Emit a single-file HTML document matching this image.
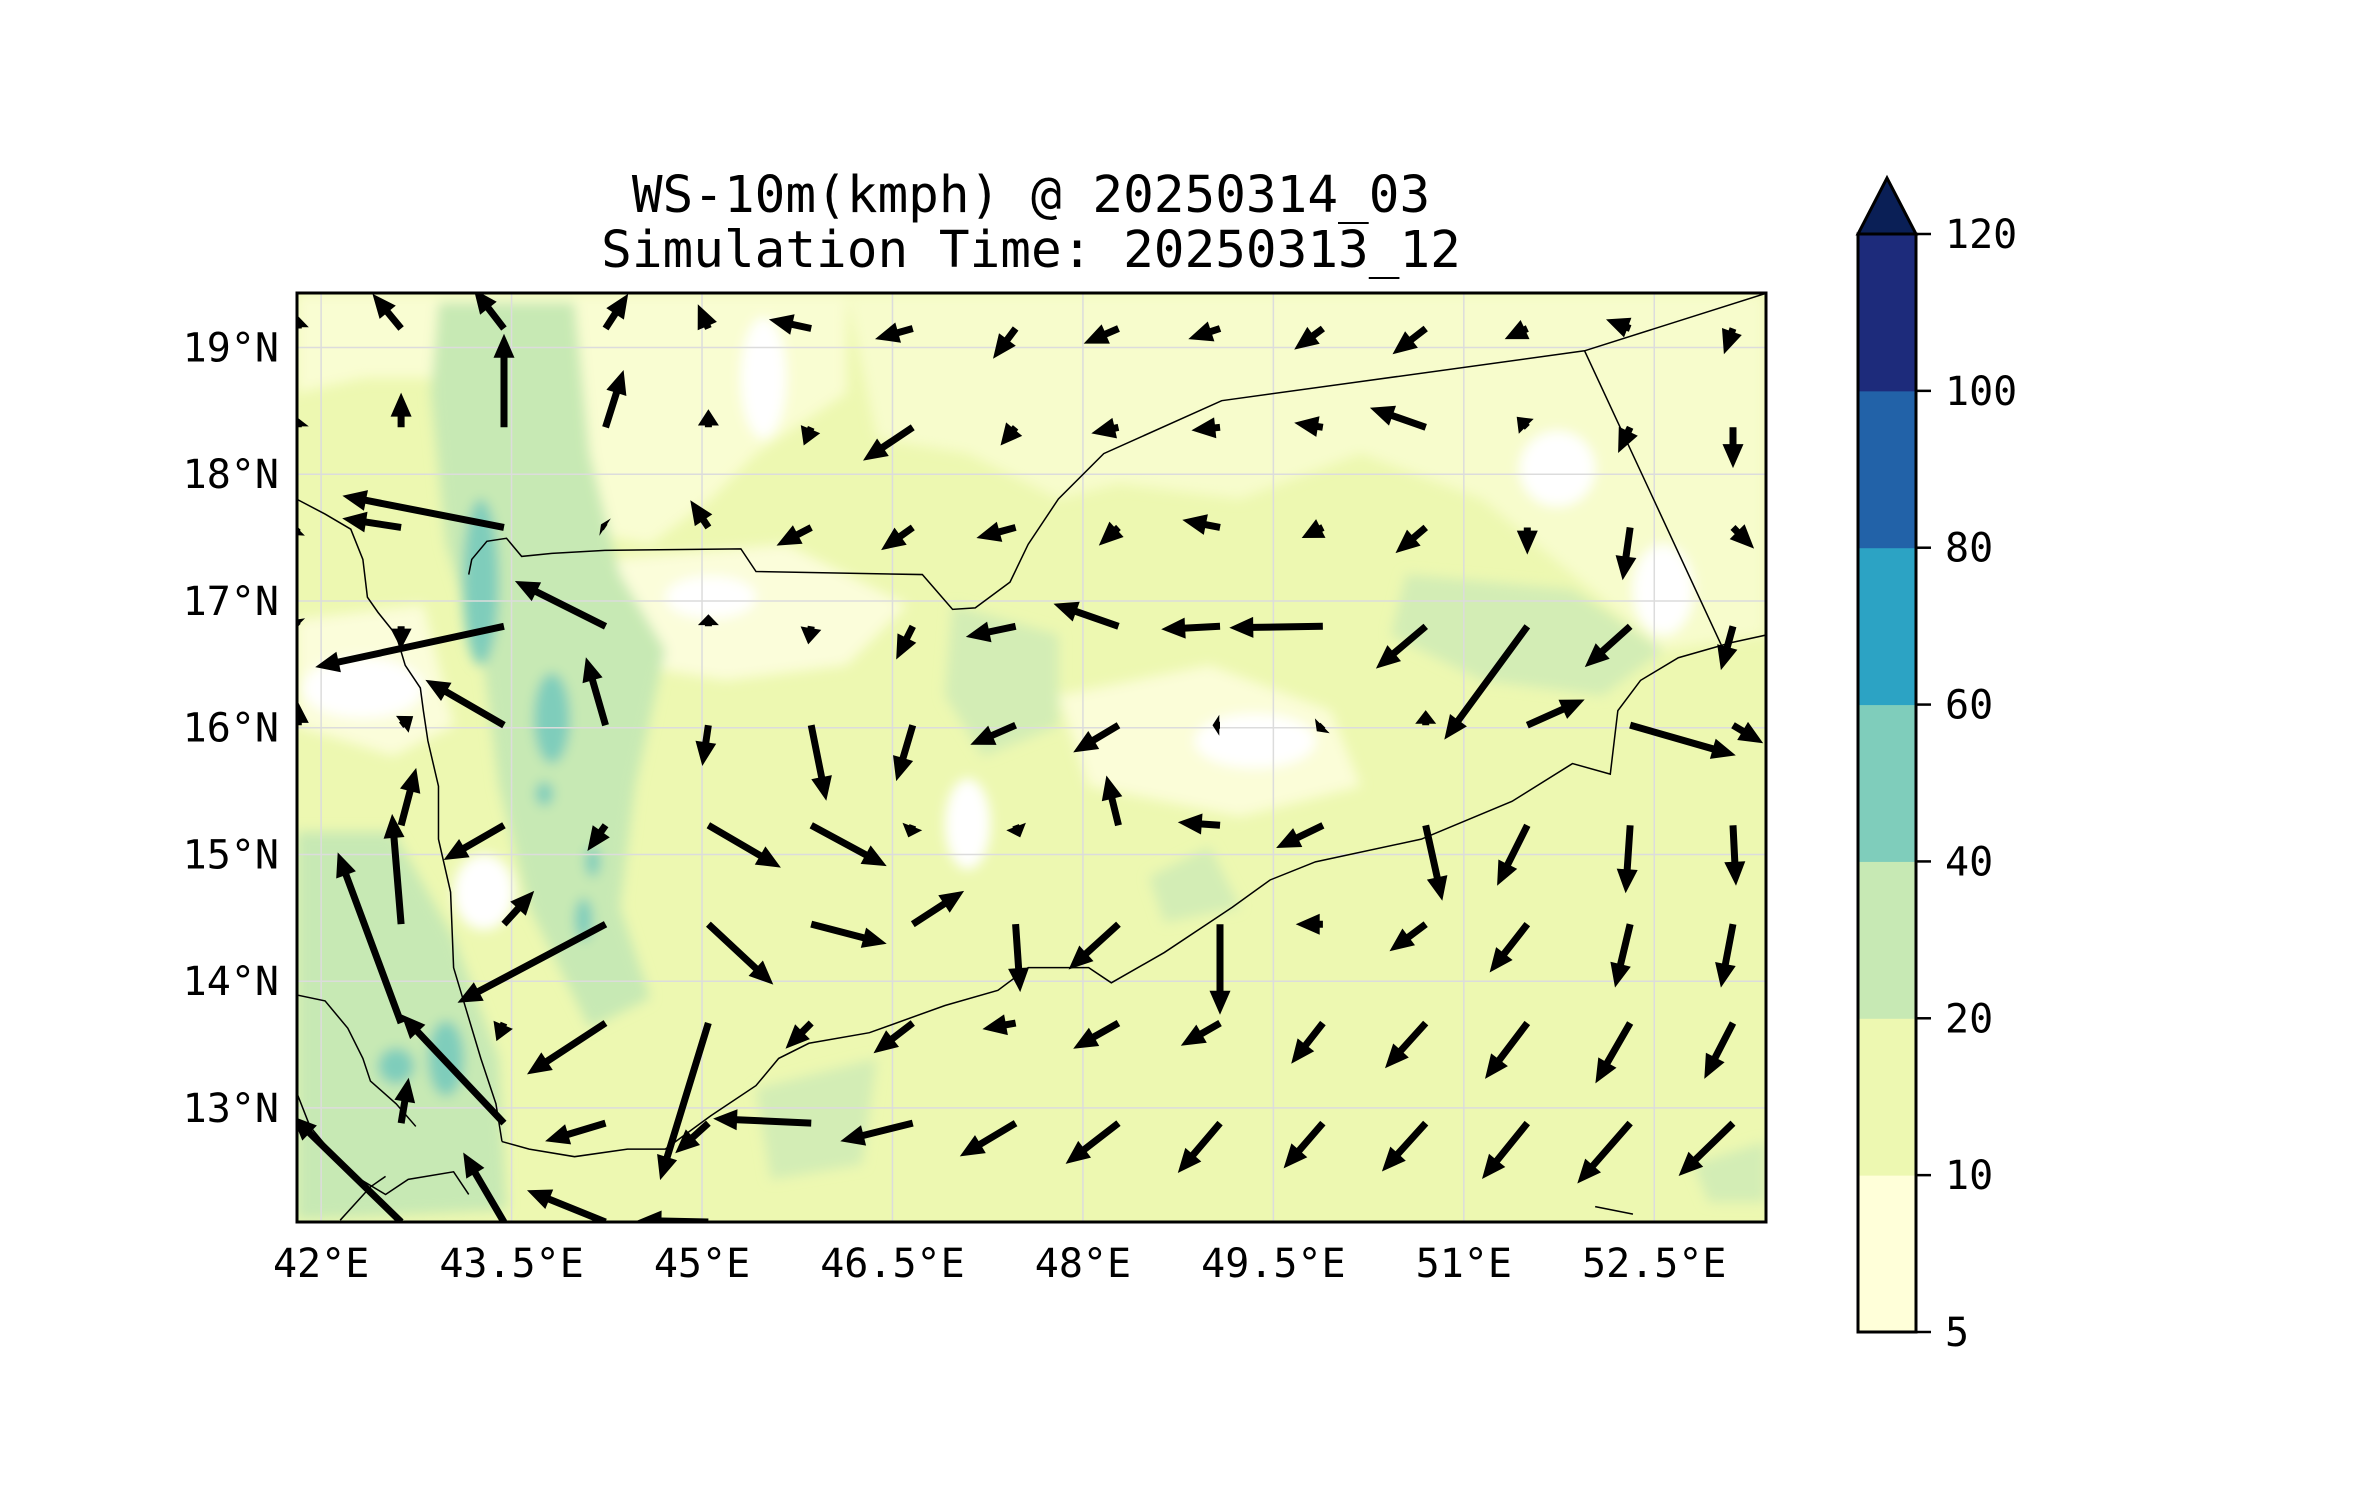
<!DOCTYPE html>
<html><head><meta charset="utf-8"><style>
html,body{margin:0;padding:0;background:#fff;}
svg{display:block;font-family:"DejaVu Sans Mono","Liberation Mono",monospace;}
</style></head><body>
<svg id="chart" width="2371" height="1500" viewBox="0 0 2371 1500" xmlns="http://www.w3.org/2000/svg">
<defs>
<clipPath id="plotclip"><rect x="297" y="293" width="1469" height="929"/></clipPath>
<filter id="blur"><feGaussianBlur stdDeviation="4"/></filter>
</defs>
<text x="1031" y="212" font-size="51" text-anchor="middle">WS-10m(kmph) @ 20250314_03</text>
<text x="1031" y="267" font-size="51" text-anchor="middle">Simulation Time: 20250313_12</text>
<g id="plot" clip-path="url(#plotclip)">
<rect x="297" y="293" width="1469" height="929" fill="#edf8b1"/>
<g transform="scale(1.512)" filter="url(#blur)">
<path d="M196 194 L560 194 L560 260 L500 300 L470 330 L430 360 L380 350 L340 300 L300 250 L240 250 L196 260Z" fill="#f9fdd2"/>
<path d="M560 194 L1168 194 L1168 420 L1100 430 L1040 380 L980 330 L900 300 L820 330 L740 320 L700 330 L640 300 L580 290 Z" fill="#f7fccc"/>
<path d="M400 370 L520 360 L600 400 L560 440 L480 450 L420 440Z" fill="#fbfdda"/>
<path d="M700 460 L800 440 L880 470 L900 520 L820 540 L720 520Z" fill="#fbfdd8"/>
<path d="M196 410 L280 400 L300 480 L260 500 L196 480Z" fill="#fbfdda"/>
<ellipse cx="505" cy="250" rx="15" ry="40" fill="#ffffff"/>
<ellipse cx="470" cy="395" rx="30" ry="14" fill="#ffffff"/>
<ellipse cx="240" cy="455" rx="40" ry="20" fill="#ffffff"/>
<ellipse cx="830" cy="490" rx="40" ry="18" fill="#ffffff"/>
<ellipse cx="1030" cy="310" rx="25" ry="25" fill="#ffffff"/>
<ellipse cx="1100" cy="390" rx="20" ry="30" fill="#ffffff"/>
<ellipse cx="640" cy="545" rx="15" ry="30" fill="#ffffff"/>
<ellipse cx="320" cy="590" rx="20" ry="25" fill="#ffffff"/>
<path d="M290 200 L380 200 L390 300 L410 380 L440 430 L420 520 L410 600 L430 660 L390 680 L350 600 L330 520 L320 440 L295 360 L285 260Z" fill="#c7e9b4"/>
<path d="M196 550 L260 550 L300 620 L330 700 L335 800 L196 807Z" fill="#c7e9b4"/>
<path d="M630 400 L700 420 L700 480 L650 500 L625 460Z" fill="#d3edb5"/>
<path d="M930 380 L1040 390 L1100 430 L1060 460 L980 450 L920 420Z" fill="#d3edb5"/>
<path d="M500 720 L580 700 L570 770 L510 780Z" fill="#d3edb5"/>
<path d="M760 580 L800 560 L820 600 L770 610Z" fill="#d3edb5"/>
<path d="M1120 770 L1168 755 L1168 795 L1130 795Z" fill="#d3edb5"/>
<ellipse cx="318" cy="385" rx="12" ry="55" fill="#7fcdbb"/>
<ellipse cx="365" cy="475" rx="12" ry="30" fill="#7fcdbb"/>
<ellipse cx="360" cy="525" rx="6" ry="8" fill="#7fcdbb"/>
<ellipse cx="392" cy="570" rx="5" ry="10" fill="#7fcdbb"/>
<ellipse cx="386" cy="608" rx="6" ry="14" fill="#7fcdbb"/>
<ellipse cx="295" cy="700" rx="12" ry="25" fill="#7fcdbb"/>
<ellipse cx="262" cy="705" rx="12" ry="12" fill="#7fcdbb"/>
</g>
<g id="grid" stroke="#dcdcdc" stroke-width="1.5"></g>
<g transform="scale(1.512)" fill="none" stroke="#000" stroke-width="1">
<polyline points="196,330 215,340 232,350 240,370 243,395 250,405 262,420 268,440 278,455 280,470 283,490 290,520 290,555 298,590 300,640 318,700 328,730 332,755"/>
<polyline points="332,755 350,760 380,765 415,760 440,760 470,738 500,718 515,700 535,690 575,683 625,665 660,655 680,640 700,640 720,640 735,650 770,630 800,610 815,600 840,582 870,570 940,555 1000,530 1040,505 1065,512 1070,470 1085,450 1110,435 1145,425 1168,420"/>
<polyline points="310,380 312,370 322,358 335,356 345,368 365,366 400,364 490,363 500,378 610,380 630,403 645,402 668,385 680,360 700,330 730,300 808,265 1048,232 1168,194"/>
<polyline points="1048,232 1140,430"/>
<polyline points="196,658 215,662 230,680 240,700 245,715 262,730 275,745"/>
<polyline points="196,722 205,745 230,775 255,790 270,780 300,775 310,790"/>
<polyline points="225,807 245,785 255,778"/>
<polyline points="1055,798 1065,800 1080,803"/>
</g>
<g id="arrows"></g>
</g>
<rect x="297" y="293" width="1469" height="929" fill="none" stroke="#000" stroke-width="3"/>
<g id="axes"></g>
<g id="colorbar"></g>
</svg>
<script>
const lonTicks=[42,43.5,45,46.5,48,49.5,51,52.5];
const latTicks=[13,14,15,16,17,18,19];
const cbLevels=[5,10,20,40,60,80,100,120];
const cbColors=["#ffffd9","#edf8b1","#c7e9b4","#7fcdbb","#2ca3c4","#2262a8","#1d2b7b"];
const gridLons=[41.82,42.63,43.44,44.24,45.05,45.86,46.66,47.47,48.28,49.08,49.89,50.70,51.50,52.31,53.12];
const gridLats=[19.15,18.37,17.58,16.80,16.02,15.23,14.45,13.67,12.88,12.10];
const U=[
[0,-9.5,-10,7.5,-3.5,-14,-12.5,-7.5,-11.5,-10.5,-9.5,-11,-7.5,-8,-3],
[0,0,0,6,0,-2.5,-16.5,-5,-9,-9.5,-9.5,-18.5,-3.5,-4,0],
[-2.5,-19.5,-53.5,-1.5,-6,-11.5,-10.5,-13,-6.5,-12.5,-7,-10,0,-2.5,7],
[-2,0,-62.5,-30,0,-1,-5.5,-16.5,-21.5,-19.5,-31,-16.5,-27.5,-15,-4],
[0,4,-26,-6.5,-2,5,-5.5,-15,-15,-2.5,-2,0,19,35,10],
[0,5,-20,-6,24,25,-1.5,1.5,-4,-14,-15.5,5.5,-10,-1.5,1],
[0,-3,10,-49,21.5,25,17,1.5,-16.5,0,-9,-12,-12.5,-5,-4],
[0,-21,-2.5,-26,-16,-8.5,-13,-11,-15,-13,-10.5,-13.5,-14,-11.5,-9.5],
[0,2.5,-34,-20,-11,-32.5,-24,-18.5,-17.5,-14,-13,-14.5,-15,-17.5,-18],
[0,-36,-13.5,-26,-23.5,0,0,0,0,0,0,0,0,0,0]];
const V=[
[4,11.5,13,11.5,8,3,-3.5,-10,-5,-3.5,-7,-8.5,-3.5,3,-8.5],
[3,11.5,31,19,6,-6,-11,-6,-2,-1,1.5,6.5,3.5,-8.5,-13.5],
[-2.5,3,10.5,1,9,-6,-7.5,-3.5,-6,2.5,-3.5,-8.5,-9,-17.5,-7],
[2,-7.5,-13.5,15,4,-6,-11,-3.5,7.5,-1,-0.5,-14,-37.5,-13.5,-14.5],
[7.5,3,15,22.5,-13.5,-25,-18.5,-6.5,-9,0,-2,5,8.5,-10,-6],
[0,19,-11.5,-8.5,-14,-13.5,-4,-4,16.5,1,-7.5,-25,-20,-22.5,-20],
[0,36.5,11,-26,-20,-6.5,11,-22.5,-15,-30,0,-9,-16,-21,-21],
[0,56.5,-6,-17,-52,-8.5,-10,-2,-8.5,-7.5,-13.5,-15,-18.5,-20,-18.5],
[0,15,36,-6,-10,1.5,-6,-11,-13.5,-16.5,-15,-16,-18.5,-20,-17.5],
[0,35,23,10.5,0.5,0,0,0,0,0,0,0,0,0,0]];
const X0=297,X1=1766,Y0=293,Y1=1222;
const LON0=41.81,LON1=53.38,LAT0=12.1,LAT1=19.43;
function xs(lon){return X0+(lon-LON0)/(LON1-LON0)*(X1-X0);}
function ys(lat){return Y1-(lat-LAT0)/(LAT1-LAT0)*(Y1-Y0);}
const PXU=3.02;
const NS="http://www.w3.org/2000/svg";
function mk(tag,attrs,parent){const e=document.createElementNS(NS,tag);for(const k in attrs)e.setAttribute(k,attrs[k]);parent.appendChild(e);return e;}
const grid=document.getElementById('grid');
lonTicks.forEach(l=>{const g=mk('line',{x1:xs(l),x2:xs(l),y1:Y0,y2:Y1},grid);

});
latTicks.forEach(l=>{const g=mk('line',{x1:X0,x2:X1,y1:ys(l),y2:ys(l)},grid);

});
const axes=document.getElementById('axes');
lonTicks.forEach(l=>{const t=mk('text',{x:xs(l),y:1277,'font-size':40,'text-anchor':'middle'},axes);t.textContent=l+'°E';

});
latTicks.forEach(l=>{const t=mk('text',{x:279,y:ys(l)+14,'font-size':40,'text-anchor':'end'},axes);t.textContent=l+'°N';

});
const arrows=document.getElementById('arrows');
for(let j=0;j<gridLats.length;j++)for(let i=0;i<gridLons.length;i++){
 const u=U[j][i],v=V[j][i];const L=Math.hypot(u,v)*PXU;if(L<1)continue;
 const x=xs(gridLons[i]),y=ys(gridLats[j]);const a=Math.atan2(-v,u);
 const w=3.5,hw=10.5,hl=Math.min(24,L*0.9);const sl=L-hl;
 const c=Math.cos(a),s=Math.sin(a);
 const pts=[[0,-w],[sl,-w],[sl,-hw],[L,0],[sl,hw],[sl,w],[0,w]].map(p=>(x+p[0]*c-p[1]*s).toFixed(1)+','+(y+p[0]*s+p[1]*c).toFixed(1)).join(' ');
 const p=mk('polygon',{points:pts,fill:'#000'},arrows);
 
 
}
const cb=document.getElementById('colorbar');
const CX0=1858,CX1=1916,CT=234,CB=1332;const segH=(CB-CT)/(cbLevels.length-1);
cbColors.forEach((col,k)=>{const r=mk('rect',{x:CX0,y:CB-(k+1)*segH,width:CX1-CX0,height:segH+0.5,fill:col},cb);

});
const tri=mk('polygon',{points:CX0+','+CT+' '+CX1+','+CT+' '+((CX0+CX1)/2)+',178',fill:'#0a1f56',stroke:'#000','stroke-width':3},cb);


const fr=mk('rect',{x:CX0,y:CT,width:CX1-CX0,height:CB-CT,fill:'none',stroke:'#000','stroke-width':3},cb);


cbLevels.forEach((l,k)=>{const y=CB-k*segH;mk('line',{x1:CX1,x2:CX1+15,y1:y,y2:y,stroke:'#000','stroke-width':2.5},cb);
const t=mk('text',{x:1945,y:y+14,'font-size':40},cb);t.textContent=l;

});
</script>
</body></html>
